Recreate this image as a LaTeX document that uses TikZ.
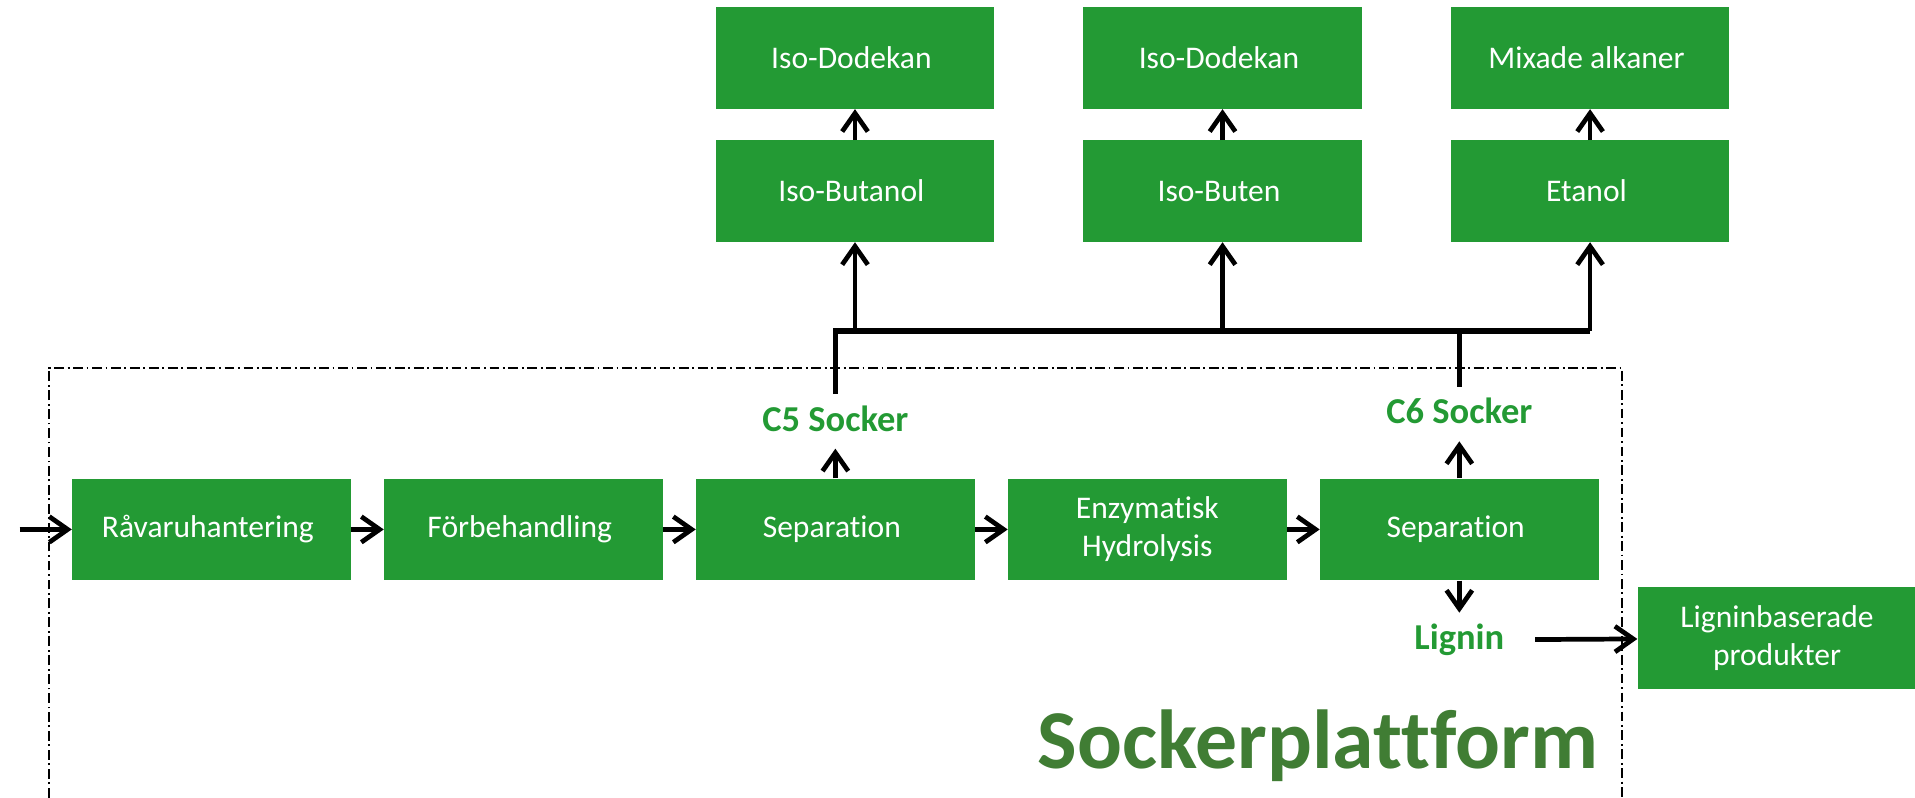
\documentclass[tikz,border=0pt]{standalone}
\usepackage{fontspec}
\setmainfont{Carlito}[Ligatures=NoCommon]
\usetikzlibrary{matrix,arrows.meta}
\definecolor{boxgreen}{RGB}{35,154,52}
\definecolor{titlegreen}{RGB}{64,125,52}
\tikzset{
    box/.style={fill=boxgreen, text=white, minimum width=4.56cm, minimum height=1.66cm,
        inner sep=0pt, align=center, font=\fontsize{14.7}{17.6}\selectfont},
    lbl/.style={text=boxgreen, font=\fontsize{17}{20}\selectfont\bfseries, inner xsep=0.5cm,
        inner ysep=0pt, text height=0.6cm, text depth=0.28cm, anchor=base},
    arr/.style={-{Straight Barb[length=0.3cm,width=0.42cm]}, line width=2.2pt},
    busline/.style={line width=2.6pt},
    border/.style={line width=0.9pt, dash pattern=on 0.16cm off 0.06cm on 0.03cm off 0.06cm}
}
\begin{document}
\begin{tikzpicture}[x=0.02cm, y=-0.02cm]
            \useasboundingbox (0,0) rectangle (1568,653);
            \draw[border] (40,653) |- (1328,301) -- (1328,653);
            \matrix (proc) [matrix of nodes, nodes={box, anchor=center}, column sep=0.55cm] at (684,433.5) {
                Råvaruhantering & Förbehandling & Separation & |[text width=3cm]| Enzymatisk Hydrolysis & Separation \\
            };
            \matrix (prod) [matrix of nodes, nodes={box, anchor=center}, column sep=1.46cm, row sep=0.52cm] at (1001,102) {
                Iso-Dodekan & Iso-Dodekan & Mixade alkaner \\
                Iso-Butanol & Iso-Buten & Etanol \\
            };
            \node[box] (lignprod) at (1455,522.5) {Ligninbaserade\\produkter};
            \node[lbl] (c5) at (proc-1-3 |- 0,353) {C5 Socker};
            \node[lbl] (c6) at (proc-1-5 |- 0,347) {C6 Socker};
            \node[lbl] (lignin) at (proc-1-5 |- 0,532) {Lignin};
            \node[anchor=base east, inner sep=0pt, text=titlegreen,
                font=\fontsize{39}{47}\selectfont\bfseries] (title) at (1309,629) {Sockerplattform};
            \coordinate (feed) at (16,433.5);
            \coordinate (bus) at (0,271);
            \draw[arr] (feed) -- (proc-1-1);
            \foreach \a/\b in {1/2,2/3,3/4,4/5}
                \draw[arr] (proc-1-\a) -- (proc-1-\b);
            \draw[arr] (proc-1-3) -- (c5);
            \draw[arr] (proc-1-5) -- (c6);
            \draw[arr] (proc-1-5) -- (lignin);
            \draw[arr] (lignin) -- (lignprod);
            \draw[busline] (c5.north) -- (c5.north |- bus) -- (prod-2-3.south |- bus);
            \draw[busline] (c6.north) -- (c6.north |- bus);
            \foreach \c in {1,2,3} {
                \draw[arr] (prod-2-\c.south |- bus) -- (prod-2-\c);
                \draw[arr] (prod-2-\c) -- (prod-1-\c);
            }
        \end{tikzpicture}
\end{document}
